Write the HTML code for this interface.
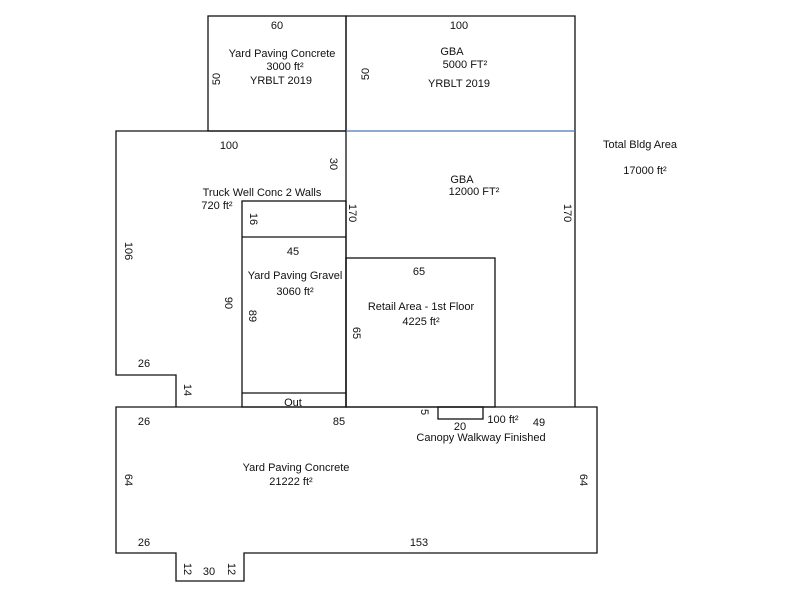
<!DOCTYPE html>
<html><head><meta charset="utf-8"><style>
html,body{margin:0;padding:0;background:#fff;}
svg text{font-family:"Liberation Sans",Arial,sans-serif;font-size:11px;fill:#111;}
</style></head><body>
<svg width="800" height="600" viewBox="0 0 800 600" xmlns="http://www.w3.org/2000/svg">
<g fill="none" stroke="#111" stroke-width="1.3">
<rect x="208" y="16" width="138" height="115"/>
<path d="M346 131 V16 H575 V131"/>
<path d="M346 131 H116 V375 H176 V407"/>
<path d="M116 407 H597 V553 H244 V581 H176 V553 H116 Z"/>
<path d="M346 131 V407 M575 131 V407"/>
<rect x="242" y="201" width="104" height="206"/>
<path d="M242 237 H346 M242 393 H346"/>
<rect x="346" y="258" width="149" height="149"/>
<rect x="438" y="407" width="45" height="12"/>
</g>
<line x1="346" y1="131" x2="575" y2="131" stroke="#4a78b8" stroke-width="1.2"/>
<g text-anchor="middle">
<text x="277" y="29">60</text>
<text x="282" y="57">Yard Paving Concrete</text>
<text x="285" y="70">3000 ft²</text>
<text x="281" y="84">YRBLT 2019</text>
<text x="459" y="29">100</text>
<text x="452" y="55">GBA</text>
<text x="465" y="68">5000 FT²</text>
<text x="459" y="87">YRBLT 2019</text>
<text x="640" y="148">Total Bldg Area</text>
<text x="645" y="174">17000 ft²</text>
<text x="229" y="149">100</text>
<text x="262" y="196">Truck Well Conc 2 Walls</text>
<text x="217" y="209">720 ft²</text>
<text x="462" y="183">GBA</text>
<text x="474" y="195">12000 FT²</text>
<text x="293" y="255">45</text>
<text x="295" y="279">Yard Paving Gravel</text>
<text x="295" y="295">3060 ft²</text>
<text x="419" y="275">65</text>
<text x="421" y="310">Retail Area - 1st Floor</text>
<text x="421" y="325">4225 ft²</text>
<text x="144" y="367">26</text>
<text x="293" y="406">Out</text>
<text x="144" y="425">26</text>
<text x="339" y="425">85</text>
<text x="503" y="423">100 ft²</text>
<text x="539" y="426">49</text>
<text x="460" y="430">20</text>
<text x="481" y="441">Canopy Walkway Finished</text>
<text x="296" y="471">Yard Paving Concrete</text>
<text x="291" y="485">21222 ft²</text>
<text x="144" y="546">26</text>
<text x="419" y="546">153</text>
<text x="209" y="575">30</text>
</g>
<g text-anchor="middle">
<text transform="translate(220,79) rotate(-90)">50</text>
<text transform="translate(369,74) rotate(-90)">50</text>
<text transform="translate(330,164) rotate(90)">30</text>
<text transform="translate(349,213) rotate(90)">170</text>
<text transform="translate(564,213) rotate(90)">170</text>
<text transform="translate(250,219) rotate(90)">16</text>
<text transform="translate(125,251) rotate(90)">106</text>
<text transform="translate(225,303) rotate(90)">90</text>
<text transform="translate(249,316) rotate(90)">89</text>
<text transform="translate(353,333) rotate(90)">65</text>
<text transform="translate(184,390) rotate(90)">14</text>
<text transform="translate(421,412) rotate(90)">5</text>
<text transform="translate(125,480) rotate(90)">64</text>
<text transform="translate(580,480) rotate(90)">64</text>
<text transform="translate(184,569) rotate(90)">12</text>
<text transform="translate(228,569) rotate(90)">12</text>
</g>
</svg>
</body></html>
